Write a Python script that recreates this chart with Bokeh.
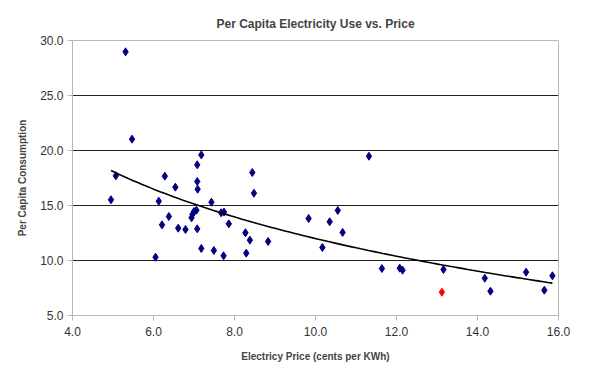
import numpy as np
from bokeh.plotting import figure
from bokeh.models import ColumnDataSource, FixedTicker, NumeralTickFormatter, Range1d
from bokeh.embed import file_html
from bokeh.resources import INLINE

# Data: electricity price (cents/kWh) vs per capita consumption
price = [5.31, 5.47, 7.18, 7.08, 5.07, 6.28, 8.44, 6.54, 7.08, 7.09,
         8.48, 4.95, 6.13, 7.43, 7.06, 7.00, 6.96, 6.94, 7.67, 7.74,
         6.38, 6.21, 7.86, 6.61, 6.79, 7.08, 8.27, 8.38, 8.83, 7.18,
         7.49, 8.29, 7.73, 6.05, 11.32, 9.83, 10.35, 10.55, 10.67, 10.17,
         11.64, 12.08, 12.15, 13.16, 14.18, 14.32, 15.20, 15.65, 15.85]
consumption = [28.97, 21.03, 19.60, 18.70, 17.70, 17.67, 18.00, 16.67, 17.18, 16.48,
               16.12, 15.52, 15.39, 15.30, 14.57, 14.45, 14.18, 13.88, 14.34, 14.40,
               14.00, 13.24, 13.33, 12.94, 12.82, 12.88, 12.52, 11.85, 11.73, 11.09,
               10.91, 10.67, 10.43, 10.30, 19.48, 13.82, 13.52, 14.55, 12.55, 11.18,
               9.27, 9.30, 9.12, 9.18, 8.39, 7.21, 8.94, 7.30, 8.61]
highlight_price = [13.12]
highlight_consumption = [7.12]

x_ticks = [4, 6, 8, 10, 12, 14, 16]
y_ticks = [5, 10, 15, 20, 25, 30]
grid_ticks = [10, 15, 20, 25]

FONT = "Liberation Sans"

p = figure(width=592, height=370, output_backend="svg", toolbar_location=None,
           x_range=Range1d(4, 16), y_range=Range1d(5, 30),
           min_border_left=72, min_border_right=34, min_border_top=40, min_border_bottom=55,
           title="Per Capita Electricity Use vs. Price")

p.title.text_font = FONT
p.title.text_font_size = "12px"
p.title.text_font_style = "bold"
p.title.align = "center"
p.title.offset = 0
p.title.standoff = 20

p.outline_line_color = "#b8b8b8"
p.outline_line_width = 1
p.background_fill_color = "white"
p.border_fill_color = "white"

p.xgrid.visible = False
p.ygrid.ticker = FixedTicker(ticks=grid_ticks)
p.ygrid.grid_line_color = "#202020"
p.ygrid.grid_line_width = 1

for ax in (p.xaxis[0], p.yaxis[0]):
    ax.axis_line_color = "#b8b8b8"
    ax.major_tick_line_color = "#b8b8b8"
    ax.major_tick_out = 5
    ax.major_tick_in = 0
    ax.minor_tick_line_color = None
    ax.major_label_text_font = FONT
    ax.major_label_text_font_size = "12px"
    ax.major_label_text_color = "#333333"
    ax.axis_label_text_font = FONT
    ax.axis_label_text_font_size = "10px"
    ax.axis_label_text_font_style = "bold"
    ax.formatter = NumeralTickFormatter(format="0.0")

p.xaxis[0].ticker = FixedTicker(ticks=x_ticks)
p.yaxis[0].ticker = FixedTicker(ticks=y_ticks)
p.xaxis.axis_label = "Electricy Price (cents per KWh)"
p.yaxis.axis_label = "Per Capita Consumption"
p.xaxis.major_label_standoff = 6
p.yaxis.major_label_standoff = 4
p.xaxis.axis_label_standoff = 12
p.yaxis.axis_label_standoff = 9

# logarithmic trendline fitted to all observations
xa = np.array(price + highlight_price)
ya = np.array(consumption + highlight_consumption)
b, a = np.polyfit(np.log(xa), ya, 1)
tx = np.linspace(xa.min(), xa.max(), 100)
ty = a + b * np.log(tx)

src = ColumnDataSource(dict(x=price, y=consumption))
p.scatter("x", "y", source=src, marker="diamond", size=8, fill_color="#000080", line_color="#000080")
p.scatter(highlight_price, highlight_consumption, marker="diamond", size=8, fill_color="#ff0000", line_color="#ff0000")
p.line(tx, ty, line_color="black", line_width=1.6)

open("out.html", "w").write(file_html(p, INLINE))
